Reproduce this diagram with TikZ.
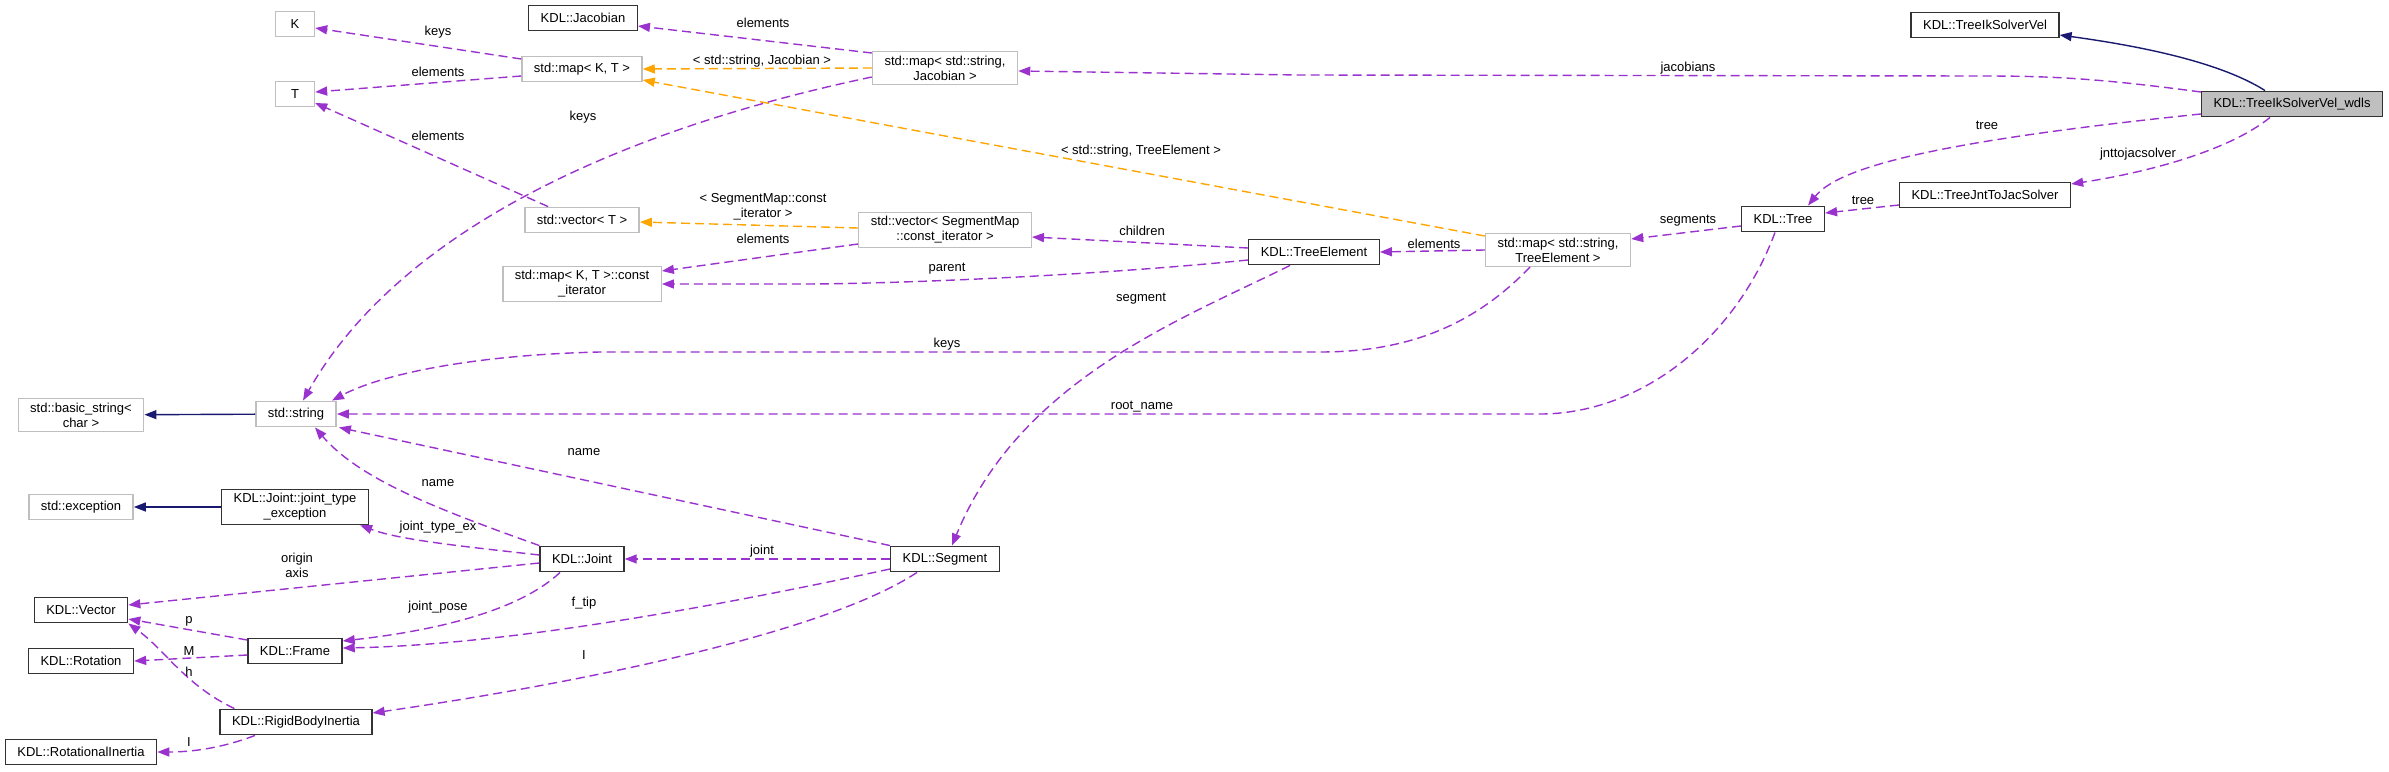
\documentclass[tikz,border=0pt]{standalone}
\usepackage{fontspec}
\setmainfont{Liberation Sans}
\usepackage{tikz}
\usetikzlibrary{arrows.meta}
\definecolor{usecol}{HTML}{9A32CD}
\definecolor{tplcol}{HTML}{FFA500}
\definecolor{inhcol}{HTML}{191970}
\definecolor{extcol}{HTML}{BFBFBF}
\begin{document}
\begin{tikzpicture}[x=1pt,y=-1pt,
    cls/.style={draw=black!80,line width=1.4pt,rectangle,inner xsep=12pt,inner ysep=4pt,
        minimum height=25.5pt,minimum width=39pt,align=center,font=\fontsize{13}{15}\selectfont},
    ext/.style={cls,draw=extcol},
    cur/.style={cls,fill=extcol},
    lbl/.style={inner sep=0pt,align=center,font=\fontsize{13}{15}\selectfont},
    use/.style={draw=usecol,line width=1.4pt,dash pattern=on 9pt off 5pt,-{Triangle[length=12pt,width=9pt]}},
    tpl/.style={use,draw=tplcol},
    inh/.style={draw=inhcol,line width=1.4pt,-{Triangle[length=12pt,width=9pt]}}]
    \useasboundingbox (0,0) rectangle (2389,771);

    % classes
    \node[cur] (wdls) at (2292,104) {KDL::TreeIkSolverVel\_wdls};
    \node[cls] (ikvel) at (1985,25) {KDL::TreeIkSolverVel};
    \node[cls] (jntjac) at (1985,195) {KDL::TreeJntToJacSolver};
    \node[cls] (tree) at (1783,219) {KDL::Tree};
    \node[ext] (mapTE) at (1558,250) {std::map< std::string,\\TreeElement >};
    \node[cls] (treeel) at (1314,252) {KDL::TreeElement};
    \node[ext] (vecseg) at (945,230) {std::vector< SegmentMap\\::const\_iterator >};
    \node[ext] (mapJac) at (945,68) {std::map< std::string,\\Jacobian >};
    \node[cls] (jacobian) at (583,18) {KDL::Jacobian};
    \node[ext] (mapKT) at (582,69) {std::map< K, T >};
    \node[ext] (K) at (295,24) {K};
    \node[ext] (T) at (295,94) {T};
    \node[ext] (vecT) at (582,220) {std::vector< T >};
    \node[ext] (mapit) at (582,284) {std::map< K, T >::const\\\_iterator};
    \node[ext] (string) at (296,414) {std::string};
    \node[ext] (basicstr) at (81,415) {std::basic\_string<\\char >};
    \node[ext] (exception) at (81,507) {std::exception};
    \node[cls] (jte) at (295,507) {KDL::Joint::joint\_type\\\_exception};
    \node[cls] (joint) at (582,559) {KDL::Joint};
    \node[cls] (segment) at (945,559) {KDL::Segment};
    \node[cls] (vector) at (81,610) {KDL::Vector};
    \node[cls] (frame) at (295,651) {KDL::Frame};
    \node[cls] (rotation) at (81,661) {KDL::Rotation};
    \node[cls] (rbi) at (296,722) {KDL::RigidBodyInertia};
    \node[cls] (rotinertia) at (81,752) {KDL::RotationalInertia};

    % inheritance
    \draw[inh] ([xshift=-27pt]wdls.north) .. controls (2220,62) and (2140,46) .. ([yshift=-10pt]ikvel.east);
    \draw[inh] (string) -- (basicstr);
    \draw[inh] (jte) -- (exception);

    % template instances
    \draw[tpl] ([yshift=14pt]mapTE.west) -- ([yshift=-11pt]mapKT.east);
    \draw[tpl] (mapJac.west) -- (mapKT.east);
    \draw[tpl] ([yshift=2pt]vecseg.west) -- ([yshift=-2pt]vecT.east);

    % usage
    \draw[use] ([yshift=12pt]wdls.west) .. controls (2090,77) and (2040,76) .. (1980,76) -- (1300,75) -- ([yshift=-3pt]mapJac.east);
    \draw[use] ([yshift=-10pt]wdls.west) .. controls (1950,140) and (1840,165) .. ([xshift=25pt]tree.north);
    \draw[use] ([xshift=-22pt]wdls.south) .. controls (2230,150) and (2150,172) .. ([yshift=11pt]jntjac.east);
    \draw[use] ([yshift=-10pt]jntjac.west) -- ([yshift=6pt]tree.east);
    \draw[use] ([yshift=-7pt]tree.west) -- ([yshift=11pt]mapTE.east);
    \draw[use] ([xshift=-8pt]tree.south) .. controls (1735,340) and (1640,414) .. (1540,414) -- (string.east);
    \draw[use] (mapTE.west) -- (treeel.east);
    \draw[use] ([xshift=-28pt]mapTE.south) .. controls (1470,330) and (1400,352) .. (1320,352) -- (600,352)
        .. controls (470,355) and (380,375) .. ([xshift=36pt]string.north);
    \draw[use] ([yshift=4pt]treeel.west) -- ([yshift=-7pt]vecseg.east);
    \draw[use] ([yshift=-8pt]treeel.west) .. controls (1100,275) and (900,284) .. (800,284) -- (mapit.east);
    \draw[use] ([xshift=-24pt]treeel.south) .. controls (1180,320) and (1020,380) .. ([xshift=7pt]segment.north);
    \draw[use] ([yshift=-14pt]vecseg.west) -- ([yshift=13pt]mapit.east);
    \draw[use] ([yshift=15pt]mapJac.west) -- ([yshift=-8pt]jacobian.east);
    \draw[use] ([yshift=-9pt]mapJac.west) .. controls (620,130) and (400,230) .. ([xshift=7pt]string.north);
    \draw[use] ([yshift=10pt]mapKT.west) -- ([yshift=-4pt]K.east);
    \draw[use] ([yshift=-7pt]mapKT.west) -- ([yshift=2pt]T.east);
    \draw[use] ([xshift=-34pt]vecT.north) -- ([yshift=-9pt]T.east);
    \draw[use] (joint.north west) .. controls (440,510) and (360,480) .. ([xshift=19pt]string.south);
    \draw[use] (segment.north west) -- ([xshift=2pt]string.south east);
    \draw[use] ([yshift=4pt]joint.west) .. controls (460,546) and (400,540) .. ([xshift=-9pt]jte.south east);
    \draw[use] (segment.west) -- (joint.east);
    \draw[use] ([yshift=-4pt]joint.west) -- ([yshift=5pt]vector.east);
    \draw[use] ([xshift=-22pt]joint.south) .. controls (520,610) and (440,630) .. ([yshift=10pt]frame.east);
    \draw[use] ([yshift=-10pt]segment.west) .. controls (700,610) and (500,645) .. ([yshift=3pt]frame.east);
    \draw[use] ([xshift=-28pt]segment.south) .. controls (830,630) and (600,680) .. ([yshift=9pt]rbi.east);
    \draw[use] ([yshift=11pt]frame.west) -- ([yshift=-9pt]vector.east);
    \draw[use] ([yshift=-4pt]frame.west) -- (rotation.east);
    \draw[use] ([xshift=15pt]rbi.north west) .. controls (185,685) and (165,650) .. (vector.south east);
    \draw[use] ([xshift=-41pt]rbi.south) .. controls (230,745) and (200,752) .. (rotinertia.east);

    % edge labels
    \node[lbl] (lJacobians) at (1688,68) {jacobians};
    \node[lbl] (lTree) at (1987,125) {tree};
    \node[lbl] (lJntToJac) at (2138,154) {jnttojacsolver};
    \node[lbl] (lTreeB) at (1863,200) {tree};
    \node[lbl] (lSegments) at (1688,221) {segments};
    \node[lbl] (lRootName) at (1142,407) {root\_name};
    \node[lbl] (lElemTE) at (1434,244) {elements};
    \node[lbl] (lTplTE) at (1141,151) {< std::string, TreeElement >};
    \node[lbl] (lKeysTE) at (947,344) {keys};
    \node[lbl] (lChildren) at (1142,231) {children};
    \node[lbl] (lParent) at (947,269) {parent};
    \node[lbl] (lSegment) at (1141,299) {segment};
    \node[lbl] (lTplSeg) at (763,207) {< SegmentMap::const\\\_iterator >};
    \node[lbl] (lElemSeg) at (763,239) {elements};
    \node[lbl] (lElemJac) at (763,23) {elements};
    \node[lbl] (lTplJac) at (762,61) {< std::string, Jacobian >};
    \node[lbl] (lKeysJac) at (583,117) {keys};
    \node[lbl] (lKeysK) at (438,32) {keys};
    \node[lbl] (lElemT) at (438,72) {elements};
    \node[lbl] (lElemVec) at (438,136) {elements};
    \node[lbl] (lNameSeg) at (584,452) {name};
    \node[lbl] (lNameJoint) at (438,483) {name};
    \node[lbl] (lJointType) at (438,527) {joint\_type\_ex};
    \node[lbl] (lJoint) at (762,551) {joint};
    \node[lbl] (lOrigin) at (297,565) {origin\\axis};
    \node[lbl] (lJointPose) at (438,607) {joint\_pose};
    \node[lbl] (lFTip) at (584,603) {f\_tip};
    \node[lbl] (lInertia) at (584,655) {I};
    \node[lbl] (lP) at (189,621) {p};
    \node[lbl] (lM) at (189,651) {M};
    \node[lbl] (lH) at (189,672) {h};
    \node[lbl] (lRotI) at (189,742) {I};
\end{tikzpicture}
\end{document}
